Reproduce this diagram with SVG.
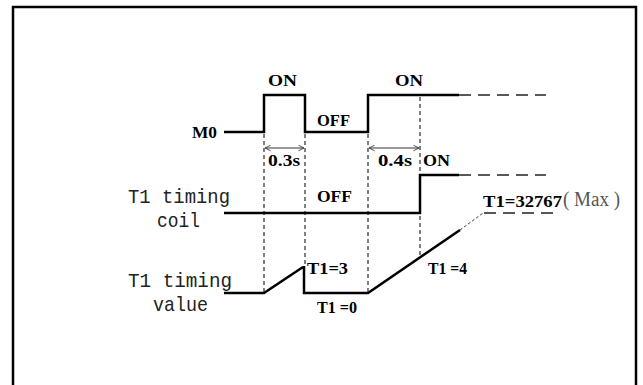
<svg xmlns="http://www.w3.org/2000/svg" width="643" height="385" viewBox="0 0 643 385">
<style>
.sig{fill:none;stroke:#000;stroke-width:2.5;stroke-linejoin:miter}
.guide{fill:none;stroke:#000;stroke-width:1;stroke-dasharray:4 3}
.cont{fill:none;stroke:#222;stroke-width:1.6;stroke-dasharray:12 7}
.dim{fill:none;stroke:#333;stroke-width:1}
.b{font-family:"Liberation Serif",serif;font-weight:bold;font-size:17px;fill:#000}
.m{font-family:"Liberation Mono",monospace;font-size:21px;fill:#222}
.g{font-family:"Liberation Serif",serif;font-size:20px;fill:#555}
</style>
<defs>
<marker id="ah" viewBox="0 0 10 10" refX="9" refY="5" markerWidth="7" markerHeight="7" orient="auto-start-reverse" markerUnits="userSpaceOnUse">
<path d="M1,1 L9,5 L1,9" fill="none" stroke="#333" stroke-width="1.2"/>
</marker>
</defs>
<rect width="643" height="385" fill="#fff"/>
<g id="frame">
<path d="M13,386 V7 H636 V386" fill="none" stroke="#000" stroke-width="2.5"/>
</g>
<g id="connectors">
<path class="guide" d="M264,134 V293 M305,134 V267 M368,134 V293 M420,97 V257"/>
<line class="dim" x1="265" y1="148" x2="304" y2="148" marker-start="url(#ah)" marker-end="url(#ah)"/>
<line class="dim" x1="369" y1="148" x2="419" y2="148" marker-start="url(#ah)" marker-end="url(#ah)"/>
<line class="cont" x1="459" y1="95" x2="546" y2="95"/>
<line class="cont" x1="459" y1="175" x2="546" y2="175"/>
<line class="cont" x1="484" y1="213" x2="556" y2="213" stroke-dasharray="11 7"/>
<line x1="460" y1="230" x2="483" y2="213" stroke="#444" stroke-width="1" stroke-dasharray="3 2"/>
</g>
<g id="m0">
<text class="b" x="192" y="138" textLength="25" lengthAdjust="spacingAndGlyphs">M0</text>
<path class="sig" d="M224,132 H264 V95 H305 V132 H368 V95 H459"/>
<text class="b" x="268" y="86" textLength="29" lengthAdjust="spacingAndGlyphs">ON</text>
<text class="b" x="317" y="126" textLength="33" lengthAdjust="spacingAndGlyphs">OFF</text>
<text class="b" x="395" y="86" textLength="28" lengthAdjust="spacingAndGlyphs">ON</text>
<text class="b" x="268" y="166" textLength="32" lengthAdjust="spacingAndGlyphs">0.3s</text>
<text class="b" x="378" y="166" textLength="34" lengthAdjust="spacingAndGlyphs">0.4s</text>
</g>
<g id="coil">
<text class="m" x="128" y="203" textLength="102" lengthAdjust="spacingAndGlyphs">T1 timing</text>
<text class="m" x="157" y="227" textLength="43" lengthAdjust="spacingAndGlyphs">coil</text>
<path class="sig" d="M224,213 H420 V175 H459"/>
<text class="b" x="317" y="202" textLength="35" lengthAdjust="spacingAndGlyphs">OFF</text>
<text class="b" x="423" y="166" textLength="27" lengthAdjust="spacingAndGlyphs">ON</text>
</g>
<g id="value">
<text class="m" x="128" y="287" textLength="104" lengthAdjust="spacingAndGlyphs">T1 timing</text>
<text class="m" x="153" y="311" textLength="55" lengthAdjust="spacingAndGlyphs">value</text>
<path class="sig" d="M224,293 H264 L303,267 M304,266 V293 H368 L460,230"/>
<text class="b" x="307" y="274" textLength="41" lengthAdjust="spacingAndGlyphs">T1=3</text>
<text class="b" x="317" y="313" textLength="40" lengthAdjust="spacingAndGlyphs">T1 =0</text>
<text class="b" x="428" y="274" textLength="39" lengthAdjust="spacingAndGlyphs">T1 =4</text>
<text class="b" x="483" y="207" textLength="79" lengthAdjust="spacingAndGlyphs">T1=32767</text>
<text class="g" x="563" y="206" textLength="57" lengthAdjust="spacingAndGlyphs">( Max )</text>
</g>
</svg>
